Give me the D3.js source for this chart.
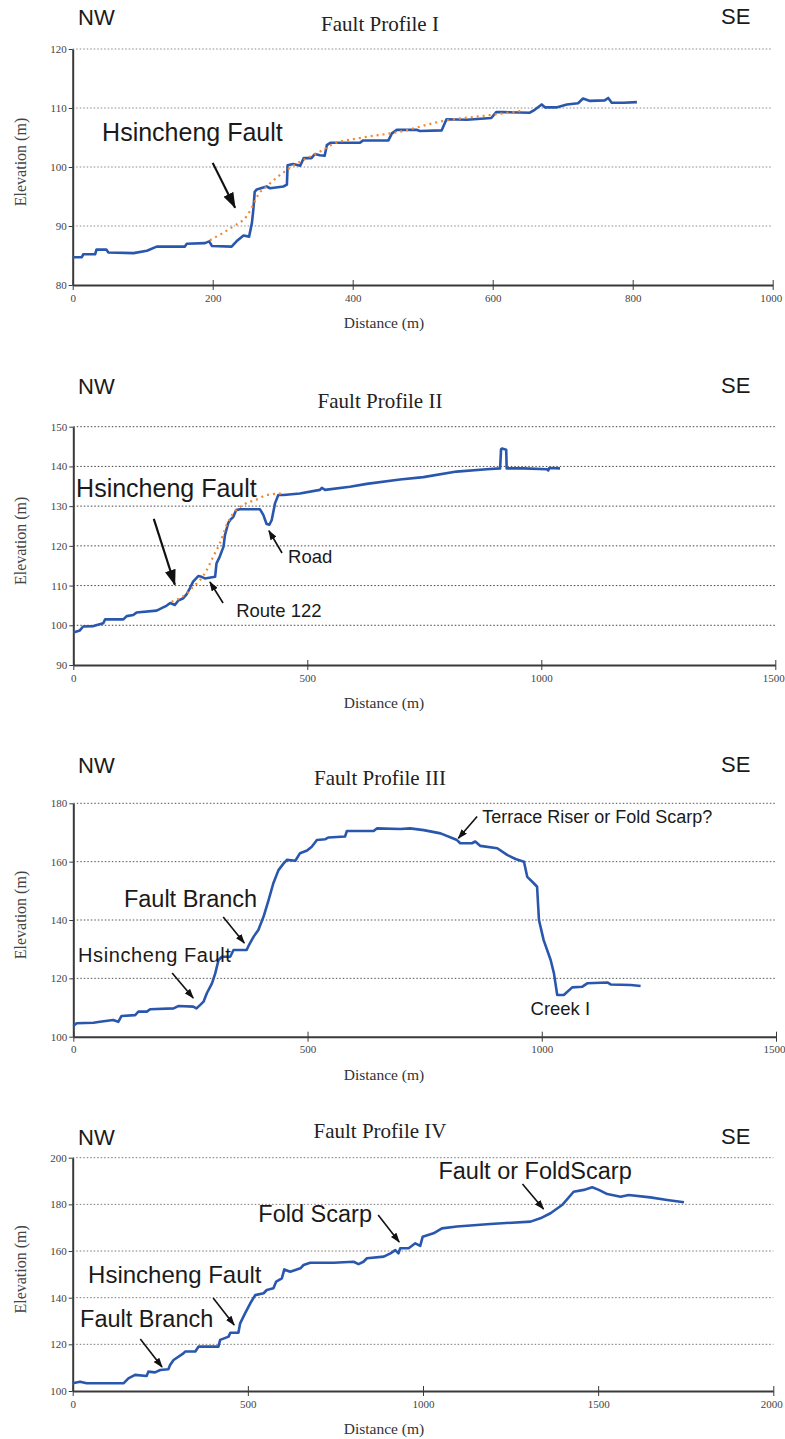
<!DOCTYPE html>
<html>
<head>
<meta charset="utf-8">
<script src="https://cdn.jsdelivr.net/npm/d3@7"></script>
<style>
  body { margin: 0; background: #fff; }
  svg { display: block; }
  .tick text { font-family: "Liberation Serif", serif; font-size: 11px; fill: #444; }
  .note { font-family: "Liberation Sans", Arial, sans-serif; fill: #1a1a1a; }
</style>
</head>
<body>
<div id="chart"></div>
<script>
// ---- Profile I ----
const dist1 = [0, 13, 15, 32, 34, 48, 51, 87, 106, 120, 160, 163, 189, 195, 199, 227, 234, 244, 252, 256, 258, 260, 263, 277, 282, 301, 306, 307, 315, 325, 330, 341, 346, 353, 360, 363, 368, 410, 415, 451, 456, 463, 491, 496, 527, 534, 563, 598, 605, 615, 653, 660, 670, 675, 691, 706, 722, 729, 739, 760, 765, 770, 787, 806];
const elev1 = [84.7, 84.7, 85.2, 85.2, 86.0, 86.0, 85.5, 85.4, 85.8, 86.5, 86.5, 87.0, 87.1, 87.4, 86.6, 86.5, 87.4, 88.4, 88.2, 90.5, 92.7, 95.8, 96.2, 96.7, 96.4, 96.7, 97.0, 100.3, 100.5, 100.2, 101.5, 101.5, 102.2, 102.0, 101.9, 103.7, 104.1, 104.1, 104.5, 104.5, 105.7, 106.3, 106.3, 106.1, 106.2, 108.1, 108.0, 108.3, 109.3, 109.3, 109.2, 109.7, 110.6, 110.1, 110.1, 110.6, 110.8, 111.6, 111.2, 111.3, 111.7, 110.9, 110.9, 111.0];
const trendDist1 = [196, 229, 248, 258, 265, 277, 306, 325, 353, 372, 410, 468, 525, 596, 641];
const trendElev1 = [87.6, 89.9, 91.6, 93.6, 95.3, 96.7, 99.5, 100.9, 102.6, 103.9, 104.9, 106.0, 107.7, 108.8, 109.5];
const xTicks1 = [0, 200, 400, 600, 800, 1000];
const yTicks1 = [80, 90, 100, 110, 120];

// ---- Profile II ----
const dist2 = [0, 14, 21, 43, 64, 68, 107, 114, 128, 135, 178, 192, 199, 207, 217, 224, 235, 242, 249, 256, 267, 274, 281, 303, 306, 313, 321, 324, 331, 335, 342, 348, 356, 399, 406, 413, 419, 424, 431, 438, 449, 484, 527, 531, 538, 591, 627, 698, 748, 819, 883, 912, 914, 916, 925, 926, 962, 1012, 1015, 1017, 1040];
const elev2 = [98.2, 98.7, 99.7, 99.8, 100.5, 101.5, 101.5, 102.3, 102.6, 103.2, 103.7, 104.5, 104.9, 105.6, 105.1, 106.2, 106.8, 107.8, 109.3, 111.0, 112.4, 112.2, 111.8, 112.2, 115.6, 117.3, 119.8, 122.7, 125.7, 126.5, 127.3, 129.0, 129.2, 129.2, 127.8, 125.5, 125.3, 126.5, 130.7, 132.8, 132.8, 133.2, 134.1, 134.6, 134.1, 134.9, 135.6, 136.7, 137.3, 138.7, 139.3, 139.5, 144.3, 144.5, 144.2, 139.5, 139.5, 139.3, 139.0, 139.6, 139.5];
const trendDist2 = [210, 242, 256, 271, 285, 299, 313, 328, 342, 363, 392, 413, 449];
const trendElev2 = [105.9, 108.0, 109.7, 111.4, 113.9, 117.3, 120.6, 125.3, 128.2, 130.3, 131.7, 132.8, 133.2];
const xTicks2 = [0, 500, 1000, 1500];
const yTicks2 = [90, 100, 110, 120, 130, 140, 150];

// ---- Profile III ----
const dist3 = [0, 7, 43, 57, 85, 96, 103, 132, 139, 157, 164, 214, 224, 256, 263, 271, 278, 285, 296, 303, 310, 317, 335, 342, 370, 374, 385, 395, 406, 417, 427, 438, 449, 456, 474, 484, 499, 509, 520, 538, 545, 580, 584, 641, 648, 698, 719, 748, 784, 819, 826, 851, 858, 869, 905, 926, 944, 962, 969, 983, 990, 994, 1004, 1019, 1026, 1033, 1047, 1065, 1086, 1097, 1140, 1147, 1190, 1211];
const elev3 = [103.7, 104.6, 104.8, 105.1, 105.7, 105.1, 107.1, 107.4, 108.6, 108.6, 109.4, 109.7, 110.5, 110.3, 109.7, 110.9, 112.0, 114.9, 118.3, 121.7, 126.3, 127.4, 127.4, 129.7, 129.7, 131.1, 134.3, 136.6, 141.1, 146.9, 152.6, 157.1, 159.4, 160.6, 160.3, 162.9, 163.8, 165.1, 167.4, 167.7, 168.3, 168.6, 170.5, 170.5, 171.4, 171.2, 171.4, 170.8, 169.7, 167.4, 166.3, 166.3, 166.9, 165.4, 164.6, 162.3, 160.9, 160.0, 154.8, 152.6, 151.4, 140.0, 133.1, 126.3, 121.7, 114.3, 114.3, 116.9, 117.1, 118.3, 118.6, 117.9, 117.7, 117.4];
const xTicks3 = [0, 500, 1000, 1500];
const yTicks3 = [100, 120, 140, 160, 180];

// ---- Profile IV ----
const dist4 = [0, 21, 40, 78, 145, 159, 178, 211, 216, 235, 250, 273, 278, 288, 316, 321, 350, 359, 416, 421, 445, 450, 473, 478, 492, 507, 521, 545, 554, 573, 581, 597, 604, 621, 650, 659, 678, 745, 802, 816, 830, 840, 888, 907, 921, 930, 935, 959, 978, 992, 999, 1030, 1054, 1097, 1192, 1307, 1335, 1364, 1397, 1430, 1459, 1483, 1502, 1526, 1564, 1587, 1649, 1697, 1745];
const elev4 = [103.3, 104.0, 103.3, 103.3, 103.3, 105.4, 106.9, 106.4, 108.3, 108.0, 109.0, 109.3, 111.1, 113.3, 116.1, 116.9, 116.9, 119.0, 119.0, 121.9, 123.3, 125.0, 125.0, 129.0, 133.3, 137.6, 141.1, 141.9, 143.3, 144.0, 146.9, 148.3, 152.1, 151.1, 152.6, 154.0, 155.0, 155.0, 155.4, 154.4, 155.4, 156.9, 157.6, 159.0, 160.4, 159.0, 161.2, 161.2, 163.3, 162.2, 166.1, 167.6, 169.7, 170.5, 171.6, 172.6, 174.0, 176.2, 179.7, 185.4, 186.2, 187.3, 186.2, 184.4, 183.3, 184.0, 183.0, 181.9, 180.9];
const xTicks4 = [0, 500, 1000, 1500, 2000];
const yTicks4 = [100, 120, 140, 160, 180, 200];

const titles = ["Fault Profile I", "Fault Profile II", "Fault Profile III", "Fault Profile IV"];

// notes: text anchored at (d, e) in data units; arrow from [d, e] to [d, e]
const notes1 = [
  { text: "Hsincheng Fault", d: 42, e: 104.4, size: 25, from: [200, 100.7], to: [232, 93.1], big: true }
];
const notes2 = [
  { text: "Hsincheng Fault", d: 6, e: 132.3, size: 25, from: [172, 126.8], to: [217, 110.2], big: true },
  { text: "Road", d: 459, e: 115.7, size: 18.5, from: [446, 118.2], to: [418, 123.8] },
  { text: "Route 122", d: 348, e: 102.1, size: 18.5, from: [320, 105.6], to: [292, 110.9] }
];
const notes3 = [
  { text: "Fault Branch", d: 108, e: 144.5, size: 23.5, from: [320, 141.0], to: [365, 132.1] },
  { text: "Hsincheng Fault", d: 10, e: 125.6, size: 20, spacing: 0.6, from: [211, 121.8], to: [256, 113.3] },
  { text: "Terrace Riser or Fold Scarp?", d: 873, e: 173.4, size: 18, from: [862, 175.5], to: [822, 168.0] },
  { text: "Creek I", d: 976, e: 107.4, size: 18.5 }
];
const notes4 = [
  { text: "Fold Scarp", d: 530, e: 172.4, size: 23.5, from: [872, 175.4], to: [932, 163.9] },
  { text: "Hsincheng Fault", d: 44, e: 146.3, size: 24, from: [401, 139.9], to: [461, 128.3] },
  { text: "Fault Branch", d: 21, e: 127.4, size: 23.5, from: [193, 122.3], to: [255, 110.3] },
  { text: "Fault or FoldScarp", d: 1044, e: 190.9, size: 23.5, from: [1284, 188.7], to: [1344, 178.0] }
];

// panel layout (pixels)
const panels = [
  { dist: dist1, elev: elev1, tDist: trendDist1, tElev: trendElev1, xTicks: xTicks1, yTicks: yTicks1, notes: notes1,
    left: 72.7, right: 772.7, top: 49, bottom: 285, titleY: 31, dirY: 25, grid: "#8a8a8a" },
  { dist: dist2, elev: elev2, tDist: trendDist2, tElev: trendElev2, xTicks: xTicks2, yTicks: yTicks2, notes: notes2,
    left: 73.3, right: 775.3, top: 426.7, bottom: 665, titleY: 408, dirY: 394, grid: "#444" },
  { dist: dist3, elev: elev3, xTicks: xTicks3, yTicks: yTicks3, notes: notes3,
    left: 73.3, right: 776, top: 803.3, bottom: 1036.7, titleY: 785, dirY: 773, grid: "#555" },
  { dist: dist4, elev: elev4, xTicks: xTicks4, yTicks: yTicks4, notes: notes4,
    left: 72.7, right: 773.3, top: 1157.7, bottom: 1391, titleY: 1138, dirY: 1145, grid: "#777" }
];

const svg = d3.select("#chart").append("svg")
  .attr("width", 785)
  .attr("height", 1439);

const defs = svg.append("defs");
[["head-big", 16, 11], ["head-small", 10, 7]].forEach(([id, len, wid]) => {
  defs.append("marker")
    .attr("id", id)
    .attr("markerUnits", "userSpaceOnUse")
    .attr("viewBox", `0 ${-wid / 2} ${len} ${wid}`)
    .attr("refX", len - 1)
    .attr("refY", 0)
    .attr("markerWidth", len)
    .attr("markerHeight", wid)
    .attr("orient", "auto")
    .append("path")
    .attr("d", `M0,${-wid / 2}L${len},0L0,${wid / 2}Z`)
    .attr("fill", "#111");
});

panels.forEach((p, i) => {
  const x = d3.scaleLinear().domain(d3.extent(p.xTicks)).range([p.left, p.right]);
  const y = d3.scaleLinear().domain(d3.extent(p.yTicks)).range([p.bottom, p.top]);
  const g = svg.append("g");

  // dotted grid
  g.selectAll("line.grid")
    .data(p.yTicks.slice(1))
    .enter().append("line")
    .attr("class", "grid")
    .attr("x1", p.left)
    .attr("x2", p.right)
    .attr("y1", d => y(d))
    .attr("y2", d => y(d))
    .attr("stroke", p.grid)
    .attr("stroke-width", 1)
    .attr("stroke-dasharray", "1.5,2");

  // axes
  const yAxis = g.append("g")
    .attr("transform", `translate(${p.left},0)`)
    .call(d3.axisLeft(y).tickValues(p.yTicks).tickFormat(d3.format("d"))
      .tickSize(4).tickSizeOuter(0).tickPadding(2));
  const xAxis = g.append("g")
    .attr("transform", `translate(0,${p.bottom})`)
    .call(d3.axisBottom(x).tickValues(p.xTicks).tickFormat(d3.format("d"))
      .tickSize(5).tickSizeOuter(0).tickPadding(4));
  xAxis.selectAll(".tick line").attr("y1", -5);
  // last label sits on the page edge: pull it in so it is not cut
  xAxis.selectAll(".tick text").filter(d => d === p.xTicks[p.xTicks.length - 1])
    .attr("text-anchor", "end")
    .attr("dx", 9);
  [yAxis, xAxis].forEach(a => {
    a.select(".domain").attr("stroke", "#3a3a3a").attr("stroke-width", 2);
    a.selectAll(".tick line").attr("stroke", "#3a3a3a").attr("stroke-width", 1);
  });

  // profile line
  const pts = p.dist.map((d, k) => [d, p.elev[k]]);
  g.append("path")
    .datum(pts)
    .attr("fill", "none")
    .attr("stroke", "#2a57ae")
    .attr("stroke-width", 2.6)
    .attr("stroke-linejoin", "round")
    .attr("d", d3.line().x(d => x(d[0])).y(d => y(d[1])));

  // dotted trend (pre-faulting surface)
  if (p.tDist) {
    const tp = p.tDist.map((d, k) => [d, p.tElev[k]]);
    g.append("path")
      .datum(tp)
      .attr("fill", "none")
      .attr("stroke", "#f5862a")
      .attr("stroke-width", 2.2)
      .attr("stroke-dasharray", "2,4")
      .attr("d", d3.line().curve(d3.curveMonotoneX).x(d => x(d[0])).y(d => y(d[1])));
  }

  // titles
  g.append("text")
    .attr("x", 380)
    .attr("y", p.titleY)
    .attr("text-anchor", "middle")
    .attr("font-family", "Liberation Serif, serif")
    .attr("font-size", 21)
    .attr("fill", "#222")
    .text(titles[i]);
  g.append("text")
    .attr("class", "note")
    .attr("x", 78)
    .attr("y", p.dirY)
    .attr("font-size", 22)
    .text("NW");
  g.append("text")
    .attr("class", "note")
    .attr("x", 721)
    .attr("y", p.dirY - 1)
    .attr("font-size", 22)
    .text("SE");

  // axis titles
  g.append("text")
    .attr("transform", `translate(26,${(p.top + p.bottom) / 2 - 5}) rotate(-90)`)
    .attr("text-anchor", "middle")
    .attr("font-family", "Liberation Serif, serif")
    .attr("font-size", 16)
    .attr("fill", "#444")
    .text("Elevation (m)");
  g.append("text")
    .attr("x", 384)
    .attr("y", p.bottom + 43)
    .attr("text-anchor", "middle")
    .attr("font-family", "Liberation Serif, serif")
    .attr("font-size", 15.5)
    .attr("fill", "#333")
    .text("Distance (m)");

  // annotations
  p.notes.forEach(n => {
    g.append("text")
      .attr("class", "note")
      .attr("x", x(n.d))
      .attr("y", y(n.e))
      .attr("font-size", n.size)
      .attr("letter-spacing", n.spacing || 0)
      .text(n.text);
    if (n.from) {
      g.append("line")
        .attr("x1", x(n.from[0]))
        .attr("y1", y(n.from[1]))
        .attr("x2", x(n.to[0]))
        .attr("y2", y(n.to[1]))
        .attr("stroke", "#111")
        .attr("stroke-width", n.big ? 2.2 : 1.6)
        .attr("marker-end", `url(#${n.big ? "head-big" : "head-small"})`);
    }
  });
});
</script>
</body>
</html>
